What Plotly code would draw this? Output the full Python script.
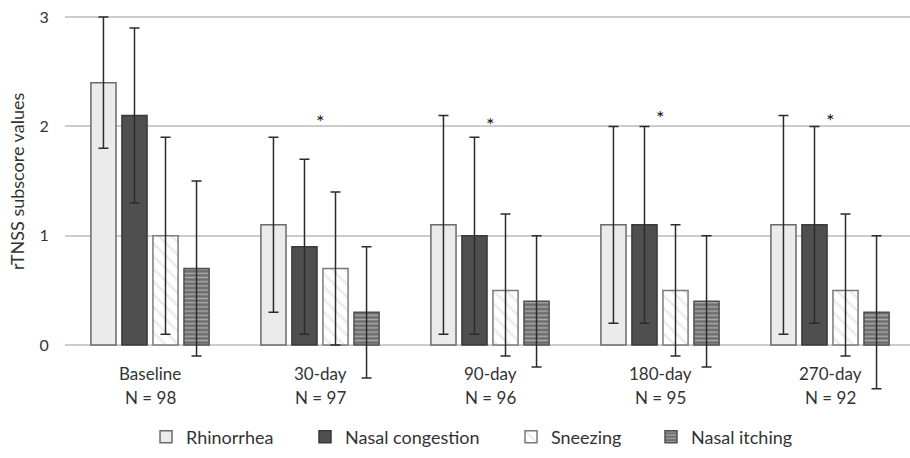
import plotly.graph_objects as go

# ---- data ----
categories = ["Baseline", "30-day", "90-day", "180-day", "270-day"]
n_patients = [98, 97, 96, 95, 92]
rhinorrhea = [2.4, 1.1, 1.1, 1.1, 1.1]
rhinorrhea_sd = [0.6, 0.8, 1.0, 0.9, 1.0]
congestion = [2.1, 0.9, 1.0, 1.1, 1.1]
congestion_sd = [0.8, 0.8, 0.9, 0.9, 0.9]
sneezing = [1.0, 0.7, 0.5, 0.5, 0.5]
sneezing_sd_plus = [0.9, 0.7, 0.7, 0.6, 0.7]
sneezing_sd_minus = [0.9, 0.7, 0.6, 0.6, 0.6]
itching = [0.7, 0.3, 0.4, 0.4, 0.3]
itching_sd = [0.8, 0.6, 0.6, 0.6, 0.7]
asterisk_y = [None, 2.08, 2.05, 2.11, 2.09]   # "*" significance markers
y_ticks = [0, 1, 2, 3]
y_title = "rTNSS subscore values"

FONT = "Lato"
TXT = "#333333"

W, H = 910, 458
ML, MR, MT, MB = 65, 0, 15, 67
plot_w = W - ML - MR
plot_h = H - MT - MB
UNIT = 109.33            # pixels per score unit
Y_MIN = -0.42
Y_MAX = Y_MIN + plot_h / UNIT


def px_to_paper_x(px):
    return (px - ML) / plot_w


def px_to_paper_y(py):
    return (H - MB - py) / plot_h


err_style = dict(type="data", visible=True, color="#2b2b2b", thickness=1.5, width=5)

specs = [
    ("Rhinorrhea", rhinorrhea, rhinorrhea_sd, rhinorrhea_sd,
     dict(color="#ebebeb", line=dict(color="#6a6a6a", width=1.5)), "legend", 146),
    ("Nasal congestion", congestion, congestion_sd, congestion_sd,
     dict(color="#4f4f4f", line=dict(color="#3a3a3a", width=1.5)), "legend2", 305),
    ("Sneezing", sneezing, sneezing_sd_plus, sneezing_sd_minus,
     dict(color="#ffffff", line=dict(color="#7a7a7a", width=1.5),
          pattern=dict(shape="\\", fgcolor="#d9d9d9", bgcolor="#ffffff",
                       size=9, solidity=0.3)), "legend3", 511),
    ("Nasal itching", itching, itching_sd, itching_sd,
     dict(color="#6e6e6e", line=dict(color="#505050", width=1.5),
          pattern=dict(shape="-", fgcolor="#e6e6e6", bgcolor="#6e6e6e",
                       size=4.2, solidity=0.35)), "legend4", 651),
]

fig = go.Figure()
for name, vals, sd_p, sd_m, marker, leg, leg_px in specs:
    fig.add_trace(go.Bar(
        name=name, x=categories, y=vals,
        error_y=dict(array=sd_p, arrayminus=sd_m, symmetric=False, **err_style),
        marker=marker, legend=leg,
    ))

for cat, ay in zip(categories, asterisk_y):
    if ay is not None:
        fig.add_annotation(x=cat, y=ay, text="*", showarrow=False, yshift=-3,
                           font=dict(family=FONT, size=20, color="#111111"),
                           xanchor="center", yanchor="middle")

# category labels (two lines) below the zero line
for cat, n in zip(categories, n_patients):
    fig.add_annotation(x=cat, yref="paper", y=px_to_paper_y(373), text=cat,
                       showarrow=False, xanchor="center", yanchor="middle",
                       font=dict(family=FONT, size=17, color=TXT))
    fig.add_annotation(x=cat, yref="paper", y=px_to_paper_y(397), text=f"N = {n}",
                       showarrow=False, xanchor="center", yanchor="middle",
                       font=dict(family=FONT, size=17, color=TXT))

# y-axis title centred on the 0..3 scale
fig.add_annotation(xref="paper", x=px_to_paper_x(17), yref="y", y=1.5,
                   text=y_title, textangle=-90, showarrow=False,
                   xanchor="center", yanchor="middle",
                   font=dict(family=FONT, size=18, color=TXT))

leg_common = dict(orientation="h", yanchor="middle", xanchor="left",
                  y=px_to_paper_y(437), bgcolor="rgba(0,0,0,0)",
                  font=dict(family=FONT, size=18, color=TXT), itemwidth=30)

layout_legends = {}
for name, vals, sd_p, sd_m, marker, leg, leg_px in specs:
    layout_legends[leg] = dict(x=px_to_paper_x(leg_px), **leg_common)

fig.update_layout(
    width=W, height=H,
    margin=dict(l=ML, r=MR, t=MT, b=MB, autoexpand=False),
    paper_bgcolor="white", plot_bgcolor="white",
    barmode="group", bargap=0.27, bargroupgap=0.19,
    font=dict(family=FONT, size=16, color=TXT),
    showlegend=True,
    **layout_legends,
    xaxis=dict(
        type="category", range=[-0.5, -0.5 + plot_w / 170.0],
        showgrid=False, showline=False, zeroline=False, showticklabels=False,
    ),
    yaxis=dict(
        range=[Y_MIN, Y_MAX], tickvals=y_ticks, showgrid=True,
        gridcolor="#cccccc", gridwidth=1.5, zeroline=False, showline=False,
        ticks="outside", ticklen=12, tickcolor="rgba(0,0,0,0)",
        tickfont=dict(family=FONT, size=16, color=TXT),
    ),
)

fig.write_html("out.html")
